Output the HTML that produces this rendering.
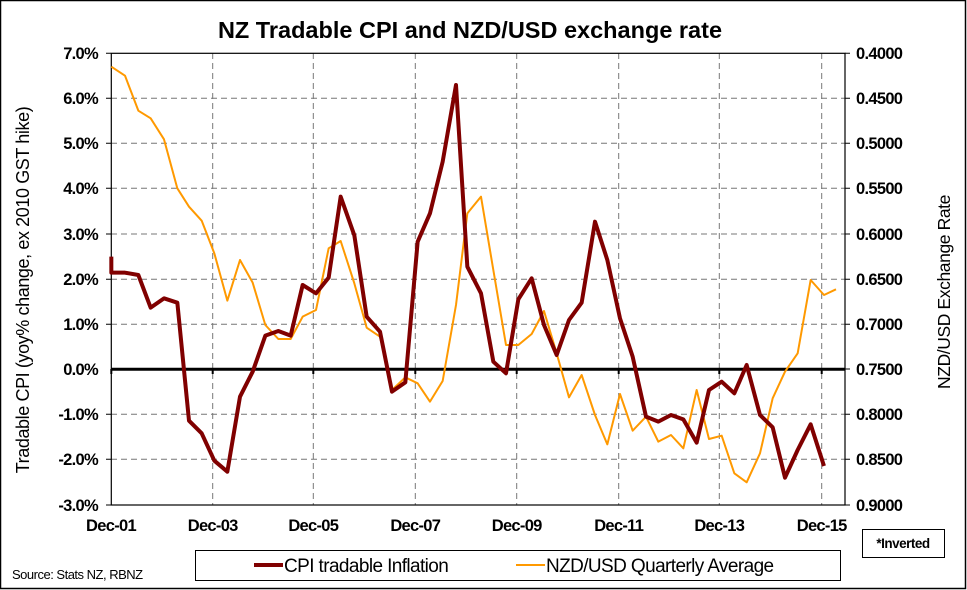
<!DOCTYPE html>
<html><head><meta charset="utf-8"><style>
body{margin:0;background:#fff}
svg{display:block;font-family:"Liberation Sans",Arial,sans-serif}
.t{font-size:16.5px;font-weight:bold;fill:#000;letter-spacing:-0.7px}
</style></head><body>
<svg width="967" height="590" viewBox="0 0 967 590">
<rect x="0.5" y="0.5" width="965" height="588" fill="#fff" stroke="#000" stroke-width="1.5"/>
<text x="470" y="38" text-anchor="middle" font-size="23.5" font-weight="bold">NZ Tradable CPI and NZD/USD exchange rate</text>
<g stroke="#777" stroke-width="1" stroke-dasharray="6,4">
<line x1="111" x2="845" y1="98.3" y2="98.3"/><line x1="111" x2="845" y1="143.3" y2="143.3"/>
<line x1="111" x2="845" y1="188.3" y2="188.3"/><line x1="111" x2="845" y1="234" y2="234"/>
<line x1="111" x2="845" y1="279.3" y2="279.3"/><line x1="111" x2="845" y1="324.3" y2="324.3"/>
<line x1="111" x2="845" y1="414.3" y2="414.3"/><line x1="111" x2="845" y1="459.3" y2="459.3"/>
<line x1="212.7" x2="212.7" y1="53" y2="505"/><line x1="313.3" x2="313.3" y1="53" y2="505"/>
<line x1="415.3" x2="415.3" y1="53" y2="505"/><line x1="516.7" x2="516.7" y1="53" y2="505"/>
<line x1="618.7" x2="618.7" y1="53" y2="505"/><line x1="719.3" x2="719.3" y1="53" y2="505"/>
<line x1="821.7" x2="821.7" y1="53" y2="505"/>
</g>
<rect x="111.3" y="53.3" width="733.7" height="451.7" fill="none" stroke="#000" stroke-width="1.2"/>
<g stroke="#000" stroke-width="1">
<path d="M106 53.3H111M106 98.3H111M106 143.3H111M106 188.3H111M106 234H111M106 279.3H111M106 324.3H111M106 414.3H111M106 459.3H111M106 505H111"/>
<path d="M845 53.3H850M845 98.3H850M845 143.3H850M845 188.3H850M845 234H850M845 279.3H850M845 324.3H850M845 369H850M845 414.3H850M845 459.3H850M845 505H850"/>
</g>
<g stroke="#000" stroke-width="2"><path d="M111.3 369v5M212.7 369v5M313.3 369v5M415.3 369v5M516.7 369v5M618.7 369v5M719.3 369v5M821.7 369v5"/></g>
<line x1="111" x2="845" y1="369.3" y2="369.3" stroke="#000" stroke-width="3"/>
<g transform="translate(100,50) scale(0.33333)" fill="none" stroke-linejoin="round">
<polyline stroke="#FF9900" stroke-width="6" points="34,50 75,77 115,182 152,205 192,268 232,415 267,470 305,512 343,610 382,752 420,630 458,698 496,825 535,867 572,867 608,800 648,780 686,595 722,573 763,700 800,833 840,860 876,1020 916,982 953,1000 990,1055 1028,993 1068,765 1102,490 1143,440 1180,660 1218,885 1255,885 1295,852 1332,783 1370,910 1407,1042 1445,975 1485,1095 1522,1183 1560,1032 1598,1142 1638,1100 1675,1175 1713,1155 1750,1195 1790,1020 1827,1167 1865,1157 1903,1270 1940,1297 1980,1210 2018,1045 2055,965 2093,910 2132,690 2172,735 2208,718"/>
<polyline stroke="#800000" stroke-width="12" points="34,620 34,668 75,668 115,675 152,773 192,745 232,758 267,1112 305,1150 343,1232 382,1265 420,1040 458,965 496,857 535,843 572,857 608,705 648,730 686,683 722,440 763,556 800,800 840,845 876,1025 916,997 953,575 990,490 1028,335 1068,105 1102,650 1143,730 1180,935 1218,970 1255,748 1295,685 1332,825 1370,915 1407,810 1445,758 1485,515 1522,630 1560,805 1598,920 1638,1100 1675,1115 1713,1095 1750,1108 1790,1178 1827,1020 1865,995 1903,1030 1940,945 1980,1095 2018,1132 2055,1283 2093,1200 2132,1123 2172,1248"/>
</g>
<g class="t" text-anchor="end">
<text x="98" y="59">7.0%</text><text x="98" y="104">6.0%</text><text x="98" y="149">5.0%</text>
<text x="98" y="194">4.0%</text><text x="98" y="240">3.0%</text><text x="98" y="285">2.0%</text>
<text x="98" y="330">1.0%</text><text x="98" y="375">0.0%</text><text x="98" y="420">-1.0%</text>
<text x="98" y="465">-2.0%</text><text x="98" y="511">-3.0%</text>
</g>
<g class="t" text-anchor="start">
<text x="856" y="59">0.4000</text><text x="856" y="104">0.4500</text><text x="856" y="149">0.5000</text>
<text x="856" y="194">0.5500</text><text x="856" y="240">0.6000</text><text x="856" y="285">0.6500</text>
<text x="856" y="330">0.7000</text><text x="856" y="375">0.7500</text><text x="856" y="420">0.8000</text>
<text x="856" y="465">0.8500</text><text x="856" y="511">0.9000</text>
</g>
<g class="t" text-anchor="middle">
<text x="111" y="531">Dec-01</text><text x="212.7" y="531">Dec-03</text><text x="313.3" y="531">Dec-05</text>
<text x="415.3" y="531">Dec-07</text><text x="516.7" y="531">Dec-09</text><text x="618.7" y="531">Dec-11</text>
<text x="719.3" y="531">Dec-13</text><text x="821.7" y="531">Dec-15</text>
</g>
<text transform="translate(29,290) rotate(-90)" text-anchor="middle" font-size="18" letter-spacing="-0.4">Tradable CPI (yoy% change, ex 2010 GST hike)</text>
<text transform="translate(950,292) rotate(-90)" text-anchor="middle" font-size="17.5" letter-spacing="-0.4">NZD/USD Exchange Rate</text>
<rect x="195.5" y="550.5" width="645" height="30" fill="#fff" stroke="#000" stroke-width="1"/>
<line x1="254" x2="283" y1="565" y2="565" stroke="#800000" stroke-width="4"/>
<text x="284" y="572" font-size="19" letter-spacing="-0.6">CPI tradable Inflation</text>
<line x1="516" x2="545" y1="565" y2="565" stroke="#FF9900" stroke-width="2"/>
<text x="546" y="572" font-size="19" letter-spacing="-0.6">NZD/USD Quarterly Average</text>
<rect x="862.5" y="529.5" width="82" height="28" fill="#fff" stroke="#000" stroke-width="1"/>
<text x="903" y="548" text-anchor="middle" font-size="13.5" font-weight="bold" letter-spacing="-0.5">*Inverted</text>
<text x="12" y="579" font-size="13" letter-spacing="-0.5">Source: Stats NZ, RBNZ</text>
</svg>
</body></html>
